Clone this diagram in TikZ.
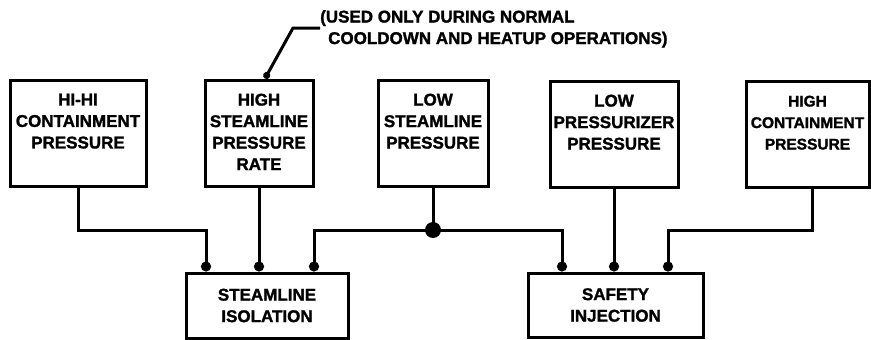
\documentclass[tikz,border=0pt]{standalone}
\usepackage{fontspec}
\setmainfont{Liberation Sans}[BoldFeatures={FakeBold=1.5}]
\usetikzlibrary{arrows.meta,calc}
\begin{document}
\begin{tikzpicture}[x=1pt,y=-1pt,
  box/.style={draw, rectangle, line width=3pt, inner sep=0pt},
  lbl/.style={font=\fontsize{17}{21.5}\selectfont\bfseries, align=center, inner sep=0pt},
  conn/.style={line width=3pt, -{Circle[length=10pt,width=10pt]}},
  jdot/.style={circle, fill, inner sep=0pt, minimum size=16pt},
  leader/.style={line width=3pt}]
\useasboundingbox (0,0) rectangle (871,340);
% top boxes
\node[box, minimum width=136pt, minimum height=106pt] (b1) at (78,133) {};
\node[box, minimum width=108pt, minimum height=106pt] (b2) at (259,133) {};
\node[box, minimum width=110pt, minimum height=106pt] (b3) at (433,133) {};
\node[box, minimum width=128pt, minimum height=106pt] (b4) at (614,134) {};
\node[box, minimum width=123pt, minimum height=106pt] (b5) at (807.5,134) {};
\node[lbl, anchor=north] (t1) at ($(b1.north)+(0,15)$) {HI-HI\\CONTAINMENT\\PRESSURE};
\node[lbl, anchor=north] (t2) at ($(b2.north)+(0,15)$) {HIGH\\STEAMLINE\\PRESSURE\\RATE};
\node[lbl, anchor=north] (t3) at ($(b3.north)+(0,15)$) {LOW\\STEAMLINE\\PRESSURE};
\node[lbl, anchor=north] (t4) at ($(b4.north)+(0,15)$) {LOW\\PRESSURIZER\\PRESSURE};
\node[lbl, anchor=north, font=\fontsize{15.5}{21.5}\selectfont\bfseries] (t5) at ($(b5.north)+(0,16)$) {HIGH\\CONTAINMENT\\PRESSURE};
% bottom boxes
\node[box, minimum width=162pt, minimum height=65pt] (si) at (267,305.5) {};
\node[box, minimum width=175pt, minimum height=64pt] (sj) at (615.5,305) {};
\node[lbl] (tsi) at (si.center) {STEAMLINE\\ISOLATION};
\node[lbl] (tsj) at (sj.center) {SAFETY\\INJECTION};
% routing points
\coordinate (k1) at (206,230);
\coordinate (k2) at (314,230);
\coordinate (k3) at (562,230);
\coordinate (k4) at (668,230);
\coordinate (k5) at (812,230);
\node[jdot] (jd) at (433,230) {};
% connectors
\draw[conn] (b1.south) |- (k1) -- (k1 |- si.north);
\draw[conn] (b2.south) -- (b2.south |- si.north);
\draw[line width=3pt] (b3.south) -- (jd.center);
\draw[conn, {Circle[length=10pt,width=10pt]}-{Circle[length=10pt,width=10pt]}] (k2 |- si.north) -- (k2) -- (k3) -- (k3 |- sj.north);
\draw[conn] (b4.south) -- (b4.south |- sj.north);
\draw[conn] (k5 |- b5.south) -- (k5) -- (k4) -- (k4 |- sj.north);
% annotation
\node[lbl, anchor=north west, align=left] (note) at (320,10) {(USED ONLY DURING NORMAL\\\hspace*{8pt}COOLDOWN AND HEATUP OPERATIONS)};
\coordinate (lb) at (293,28);
\coordinate (le) at (320,28);
\draw[leader, {Circle[length=7pt,width=7pt]}-] (b2.north -| 265,0) -- (lb) -- (le);
\end{tikzpicture}
\end{document}
